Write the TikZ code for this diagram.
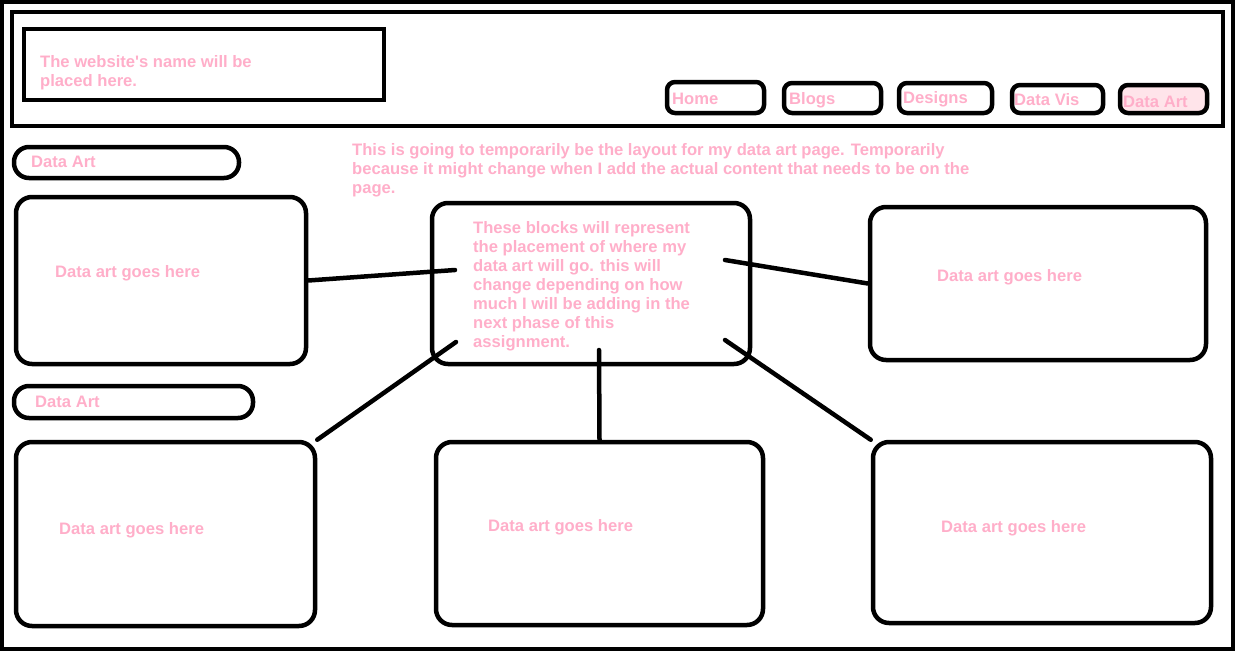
\documentclass[tikz,border=0pt]{standalone}
\usepackage{fontspec}
\setmainfont{Liberation Sans}
\usepackage{tikz}
\usetikzlibrary{positioning}
\definecolor{rose}{RGB}{255,174,201}
\definecolor{blush}{RGB}{255,228,234}

\begin{document}
\begin{tikzpicture}[x=1pt, y=-1pt]
\tikzstyle{frame}=[draw=black, line width=4.5pt, inner sep=0pt]
\tikzstyle{box}=[frame, rounded corners=16pt]
\tikzstyle{btn}=[frame, rounded corners=8pt]
\tikzstyle{pill}=[frame, rounded corners=15pt]
\tikzstyle{txt}=[text=rose, inner sep=0pt, font=\bfseries\fontsize{16.6}{19}\selectfont, align=left]
\tikzstyle{connect}=[-, line width=4.5pt, line cap=round]
\useasboundingbox (0,0) rectangle (1235,651);
\draw[line width=4pt] (2,2) rectangle (1233,649);
% header
\node[frame, minimum width=1211pt, minimum height=114pt] (head) at (617.5, 69) {};
\node[frame, minimum width=360pt, minimum height=71pt] (name) at (204, 64.5) {};
\node[txt, anchor=north west] (nameTxt) at (40, 55) {The website\textquotesingle s name will be\\placed here.};
% menu
\node[btn, minimum width=97pt, minimum height=31pt] (home) at (715.5, 97.5) {};
\node[btn, minimum width=97pt, minimum height=30pt] (blogs) at (832.5, 98) {};
\node[btn, minimum width=93pt, minimum height=30pt] (designs) at (945.5, 98) {};
\node[btn, minimum width=91pt, minimum height=28pt] (vis) at (1057.5, 99) {};
\node[btn, fill=blush, minimum width=87pt, minimum height=28pt] (art) at (1163.5, 99) {};
\node[txt, anchor=base west] (homeTxt) at (672, 104) {Home};
\node[txt, anchor=base west] (blogsTxt) at (789, 104) {Blogs};
\node[txt, anchor=base west] (designsTxt) at (903, 103) {Designs};
\node[txt, anchor=base west] (visTxt) at (1014, 105) {Data Vis};
\node[txt, anchor=base west] (artTxt) at (1123, 107) {Data Art};
% section labels
\node[pill, minimum width=225pt, minimum height=31pt] (sec1) at (126.5, 162.5) {};
\node[pill, minimum width=239pt, minimum height=32pt] (sec2) at (133.5, 402) {};
\node[txt, anchor=base west] (sec1Txt) at (31, 167) {Data Art};
\node[txt, anchor=base west] (sec2Txt) at (35, 407) {Data Art};
\node[txt, anchor=north west] (note) at (352, 143) {This is going to temporarily be the layout for my data art page. Temporarily\\because it might change when I add the actual content that needs to be on the\\page.};
% blocks
\node[box, minimum width=290pt, minimum height=167pt] (tl) at (161, 280.5) {};
\node[box, minimum width=318pt, minimum height=161pt] (ctr) at (591, 283.5) {};
\node[box, minimum width=336pt, minimum height=153pt] (tr) at (1038, 283.5) {};
\node[box, minimum width=299pt, minimum height=184pt] (bl) at (165.5, 534) {};
\node[box, minimum width=327pt, minimum height=183pt] (bc) at (599.5, 533.5) {};
\node[box, minimum width=338pt, minimum height=181pt] (br) at (1042, 532.5) {};
\node[txt, anchor=north west] (ctrTxt) at (473, 221) {These blocks will represent\\the placement of where my\\data art will go. this will\\change depending on how\\much I will be adding in the\\next phase of this\\assignment.};
\node[txt, anchor=base west] (tlTxt) at (55, 277) {Data art goes here};
\node[txt, anchor=base west] (trTxt) at (937, 281) {Data art goes here};
\node[txt, anchor=base west] (blTxt) at (59, 534) {Data art goes here};
\node[txt, anchor=base west] (bcTxt) at (488, 531) {Data art goes here};
\node[txt, anchor=base west] (brTxt) at (941, 532) {Data art goes here};
% connectors
\coordinate (cL) at (455, 270);
\coordinate (cR) at (725, 260);
\coordinate (cBL) at (456, 342);
\coordinate (cB) at (599, 350);
\coordinate (cBR) at (725, 340);
\path (tl.east) edge [connect] (cL);
\path (cR) edge [connect] (tr.west);
\path (cBL) edge [connect] (bl.north east);
\path (cB) edge [connect] (bc.north);
\path (cBR) edge [connect] (br.north west);
\end{tikzpicture}
\end{document}
